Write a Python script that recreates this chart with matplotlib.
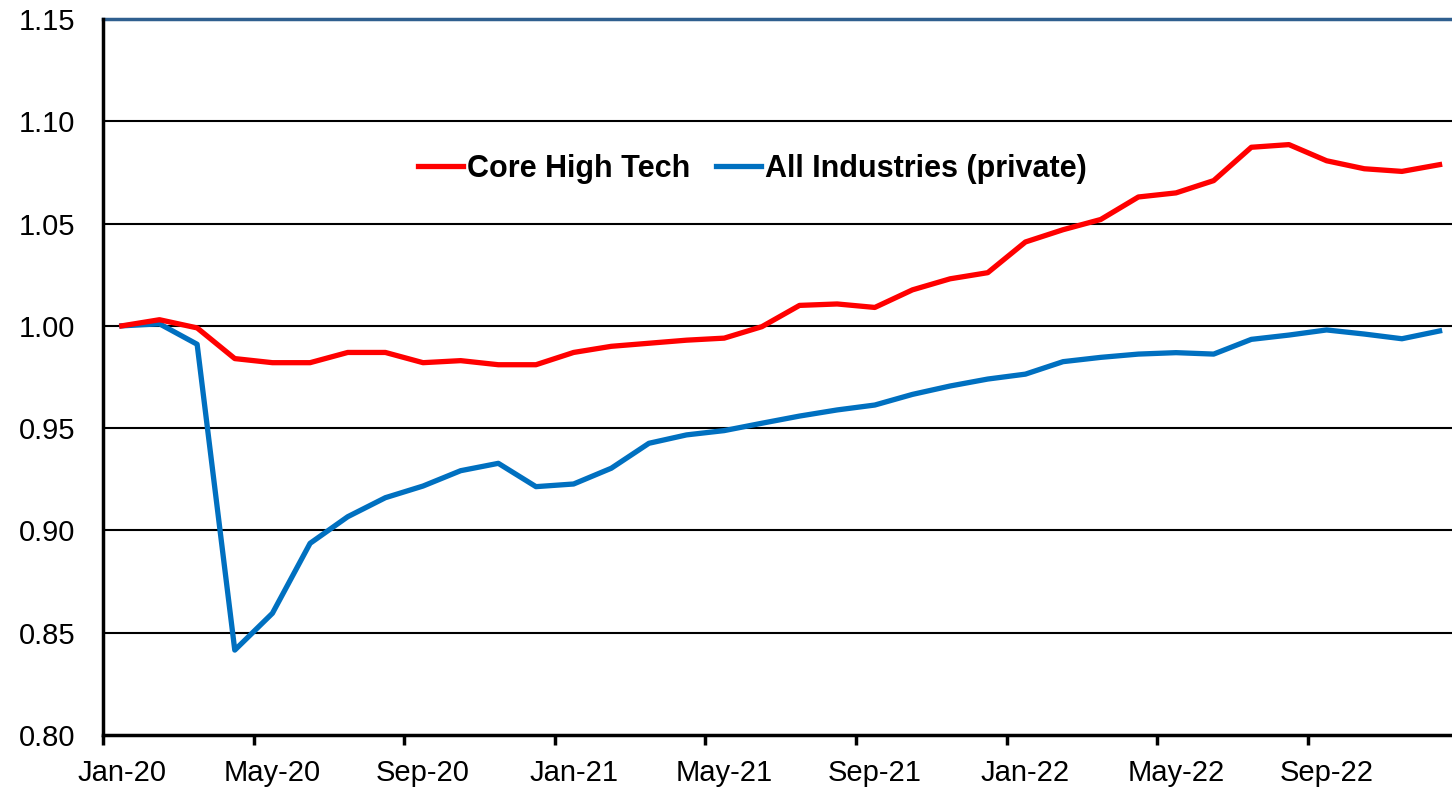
import numpy as np
import matplotlib
matplotlib.use("Agg")
import matplotlib.pyplot as plt

plt.rcParams['font.family'] = ['Liberation Sans', 'DejaVu Sans']

months = ["Jan-20", "Feb-20", "Mar-20", "Apr-20", "May-20", "Jun-20", "Jul-20", "Aug-20", "Sep-20",
          "Oct-20", "Nov-20", "Dec-20", "Jan-21", "Feb-21", "Mar-21", "Apr-21", "May-21", "Jun-21",
          "Jul-21", "Aug-21", "Sep-21", "Oct-21", "Nov-21", "Dec-21", "Jan-22", "Feb-22", "Mar-22",
          "Apr-22", "May-22", "Jun-22", "Jul-22", "Aug-22", "Sep-22", "Oct-22", "Nov-22", "Dec-22"]

core_high_tech = [1.000, 1.003, 0.999, 0.984, 0.982, 0.982, 0.987, 0.987, 0.982, 0.983, 0.981, 0.981,
                  0.987, 0.990, 0.9915, 0.993, 0.994, 0.9996, 1.010, 1.0107, 1.009, 1.0176, 1.023, 1.026,
                  1.041, 1.047, 1.052, 1.063, 1.065, 1.071, 1.0873, 1.0886, 1.0807, 1.0768, 1.0755, 1.0788]

all_industries = [1.000, 1.001, 0.991, 0.8415, 0.8595, 0.8937, 0.9067, 0.9160, 0.9217, 0.9292, 0.9328, 0.9214,
                  0.9227, 0.9304, 0.9426, 0.9467, 0.9488, 0.9524, 0.9559, 0.9589, 0.9613, 0.9665, 0.9706, 0.9740,
                  0.9764, 0.9825, 0.9846, 0.9862, 0.9869, 0.9862, 0.9934, 0.9955, 0.9980, 0.9960, 0.9937, 0.9975]

yticks = [0.80, 0.85, 0.90, 0.95, 1.00, 1.05, 1.10, 1.15]

W, H = 1452, 792
fig = plt.figure(figsize=(W / 100, H / 100), dpi=100)
left_px, right_px, top_px, bottom_px = 103, 1458.4, 19, 735
ax = fig.add_axes([left_px / W, 1 - bottom_px / H, (right_px - left_px) / W, (bottom_px - top_px) / H])

x = np.arange(len(months)) + 0.5
ax.plot(x, core_high_tech, color='#FF0000', lw=3.8, label='Core High Tech', zorder=4)
ax.plot(x, all_industries, color='#0070C0', lw=3.8, label='All Industries (private)', zorder=3)

ax.set_xlim(0, len(months))
ax.set_ylim(0.80, 1.15)

ax.set_yticks(yticks)
ax.set_yticklabels([f"{v:.2f}" for v in yticks], fontsize=21)
ax.tick_params(axis='y', length=0, pad=20)
for v in yticks[1:-1]:
    ax.axhline(v, color='black', lw=1.5, zorder=1)

major = np.arange(0, len(months), 4)
ax.set_xticks(major)
ax.set_xticklabels([])
ax.set_xticks(major + 0.5, minor=True)
ax.set_xticklabels([months[i] for i in major], minor=True, fontsize=21)
ax.tick_params(axis='x', which='major', length=7, width=2.5, direction='out', color='black')
ax.tick_params(axis='x', which='minor', length=0, pad=17)

for s in ['left', 'bottom']:
    ax.spines[s].set_linewidth(2.5)
    ax.spines[s].set_color('black')
    ax.spines[s].set_zorder(5)
ax.spines['top'].set_visible(False)
ax.spines['right'].set_visible(False)
ax.axhline(yticks[-1], color='#2F5F8F', lw=2.5, clip_on=False, zorder=2)

leg = ax.legend(loc='center left', bbox_to_anchor=(418 / W, 1 - 169 / H), bbox_transform=fig.transFigure,
                ncol=2, frameon=False, handlelength=1.47, handletextpad=0.13, columnspacing=0.85,
                borderpad=0, borderaxespad=0, prop={'weight': 'bold', 'size': 22})
for line in leg.get_lines():
    line.set_linewidth(3.8)

fig.savefig('out.png', dpi=100)
